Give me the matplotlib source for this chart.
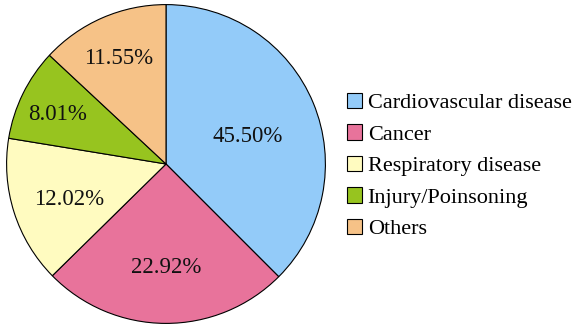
import matplotlib
matplotlib.use("Agg")
import matplotlib.pyplot as plt

# =======================
# Données
# =======================
categories = ["Cardiovascular disease", "Cancer", "Respiratory disease",
              "Injury/Poinsoning", "Others"]
# pourcentages imprimés sur le graphique
shares = [45.50, 22.92, 12.02, 8.01, 11.55]
# angles des secteurs tels que dessinés (degrés)
slice_deg = [135.0, 90.5, 53.8, 33.7, 47.0]
colors = ["#93CBF9", "#E8739B", "#FFFBC0", "#97C41F", "#F6C287"]
# position des étiquettes (en rayons)
label_pos = [(0.51, 0.17), (0.0, -0.65), (-0.61, -0.22), (-0.68, 0.31), (-0.30, 0.66)]

plt.rcParams["font.family"] = ["Liberation Serif", "DejaVu Serif"]

W, H = 577, 328
fig = plt.figure(figsize=(W / 100, H / 100), dpi=100)

cx, cy, r = 166, 164, 161
ax = fig.add_axes([(cx - r) / W, (cy - r) / H, 2 * r / W, 2 * r / H])

wedges, _ = ax.pie(slice_deg, colors=colors, startangle=90, counterclock=False,
                   radius=1, wedgeprops=dict(edgecolor="black", linewidth=0.8))
ax.set_xlim(-1.01, 1.01)
ax.set_ylim(-1.01, 1.01)
ax.set_aspect("equal")
ax.axis("off")

for (x, y), s in zip(label_pos, shares):
    ax.text(x, y, f"{s:.2f}%", ha="center", va="center", fontsize=16.5, color="#111111")

fig.legend(wedges, categories, loc="center left",
           bbox_to_anchor=(347 / W, 1 - 166 / H), frameon=False,
           fontsize=16, handlelength=0.68, handleheight=0.68,
           handletextpad=0.25, labelspacing=0.5, borderpad=0, borderaxespad=0)

fig.savefig("out.png", dpi=100)
